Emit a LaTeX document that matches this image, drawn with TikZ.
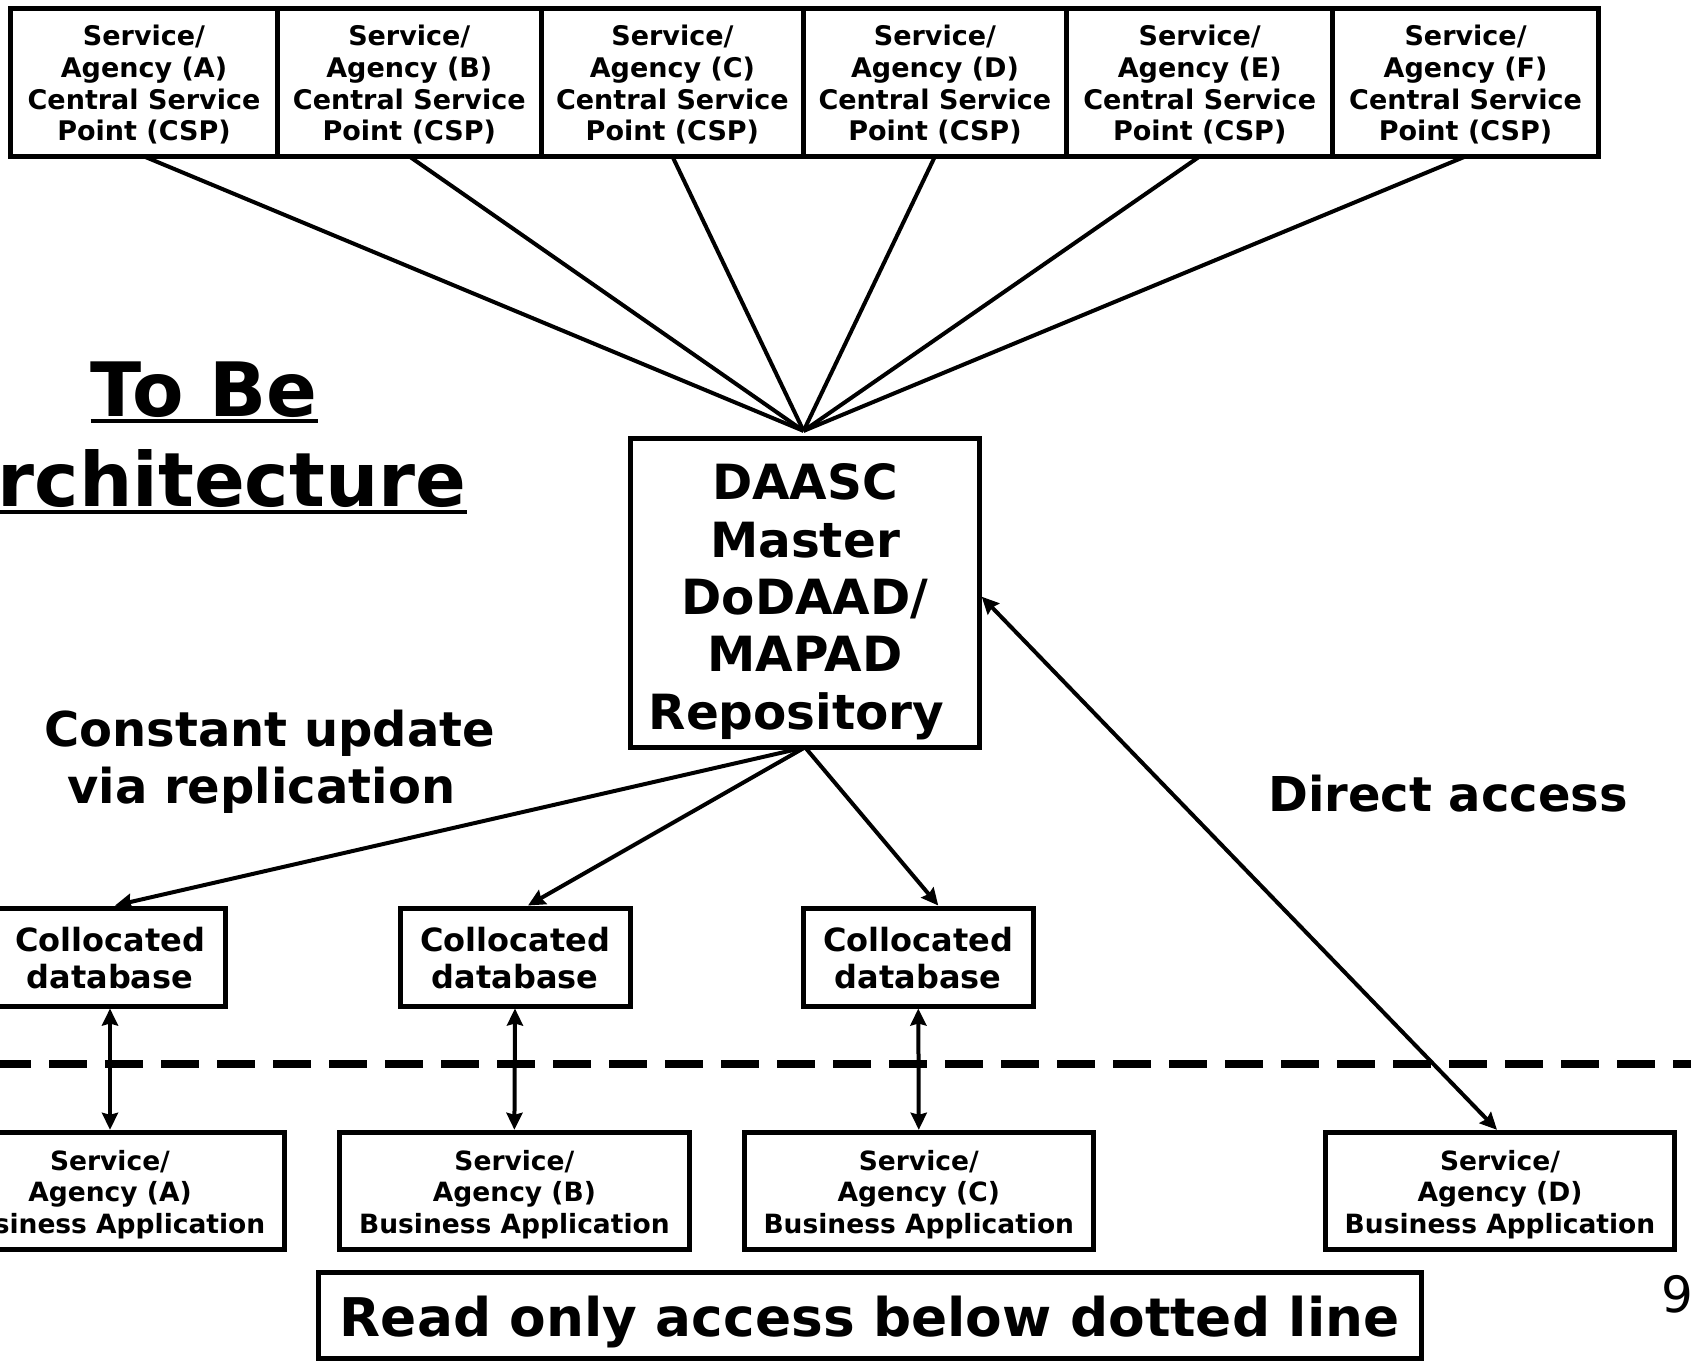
\documentclass[tikz,border=0pt]{standalone}
\usepackage{fontspec}
\setmainfont{DejaVu Sans}
\usetikzlibrary{arrows.meta,calc}
\newcommand\myUp[1]{\rule{0pt}{#1pt}}
\newcommand\myDn[1]{\rule[-#1pt]{0pt}{#1pt}}
\newcommand\csptext[1]{\myUp{29.7}Service/\\Agency (#1)\\Central Service\\Point (CSP)\myDn{8}}
\newcommand\biztext[1]{\myUp{29.6}Service/\\Agency (#1)\\Business Application\myDn{8}}
\newcommand\colltext{\myUp{35.7}Collocated\\database\myDn{10}}
\begin{document}
\begin{tikzpicture}[x=1pt,y=-1pt,
  box/.style={draw, line width=5pt, inner sep=0pt, outer sep=0pt, align=center},
  csp/.style={box, font=\fontsize{27}{31.7}\selectfont\bfseries, minimum height=147.8},
  coll/.style={box, font=\fontsize{32}{37.7}\selectfont\bfseries, minimum width=230, minimum height=98},
  biz/.style={box, font=\fontsize{26.5}{31.8}\selectfont\bfseries, minimum width=349.4, minimum height=117.6},
  big/.style={font=\fontsize{48}{57.4}\selectfont\bfseries, align=center, inner sep=0pt},
  conn/.style={line width=4pt},
  tip/.style={-{Stealth[length=17pt,width=16pt,inset=2pt]}},
  dtip/.style={{Stealth[length=17pt,width=16pt,inset=2pt]}-{Stealth[length=17pt,width=16pt,inset=2pt]}}
]
\useasboundingbox (0,0) rectangle (1691,1361);

% top row
\node[csp, minimum width=266.4] (cspA) at (144,82.5) {\csptext{A}};
\node[csp, minimum width=264.2] (cspB) at (409.3,82.5) {\csptext{B}};
\node[csp, minimum width=262] (cspC) at (672.4,82.5) {\csptext{C}};
\node[csp, minimum width=263] (cspD) at (934.95,82.5) {\csptext{D}};
\node[csp, minimum width=266.4] (cspE) at (1199.7,82.5) {\csptext{E}};
\node[csp, minimum width=265.3] (cspF) at (1465.55,82.5) {\csptext{F}};

% master
\node[box, font=\fontsize{48.5}{57.4}\selectfont\bfseries, minimum width=348.3, minimum height=308.4] (daasc) at (805.05,593.1)
  {\myUp{58.8}DAASC\\Master\\DoDAAD/\\MAPAD\\Repository\kern0.348em\myDn{16}};
\coordinate (conv) at ($(daasc.north)+(-1.5,-8)$);

% title
\node[inner sep=0pt, anchor=base, font=\fontsize{75}{92}\selectfont\bfseries] (title1) at (204.2,416) {To Be};
\node[inner sep=0pt, anchor=base east, font=\fontsize{75}{92}\selectfont\bfseries] (title2) at (466.7,506) {Architecture};
\draw[line width=4pt] ($(title1.base west)+(0,4.5)$) -- ($(title1.base east)+(0,4.5)$);
\draw[line width=4pt] ($(title2.base west)+(0,5.5)$) -- ($(title2.base east)+(0,5.5)$);

% labels
\node[big] (lblrep) at (269.6,762) {Constant update\\via replication\kern0.348em};
\node[big] (lbldir) at (1448,793.7) {Direct access};

% collocated
\node[coll] (coll1) at (110,957) {\colltext};
\node[coll] (coll2) at (515,957) {\colltext};
\node[coll] (coll3) at (918.3,957) {\colltext};

% business apps
\node[biz] (bizA) at (110,1191.1) {\biztext{A}};
\node[biz] (bizB) at (514.4,1191.1) {\biztext{B}};
\node[biz] (bizC) at (918.8,1191.1) {\biztext{C}};
\node[biz] (bizD) at (1500,1191.1) {\biztext{D}};

% read only
\node[box, font=\fontsize{53.3}{60}\selectfont\bfseries, minimum width=1103.3, minimum height=86.3] (ro) at (869.7,1315.7)
  {\myUp{55}Read only access below dotted line\myDn{14}};

% page number
\node[inner sep=0pt, anchor=west, font=\fontsize{50}{60}\selectfont] (pg) at (1661,1294) {9};

% dashed separator
\coordinate (dl) at (-7,1064);
\coordinate (dr) at (1691,1064);
\draw[line width=8pt, dash pattern=on 38pt off 18pt] (dl) -- (dr);

% connectors
\foreach \n in {A,B,C,D,E,F} \draw[conn] (csp\n.south) -- (conv);
\draw[conn, tip] (daasc.south) -- ($(coll1.north)+(5,-2.5)$);
\draw[conn, tip] (daasc.south) -- ($(coll2.north)+(13,-2.5)$);
\draw[conn, tip] (daasc.south) -- ($(coll3.north)+(20,-2.5)$);
\draw[conn, dtip] ($(coll1.south)+(0,2.5)$) -- ($(bizA.north)+(0,-2.5)$);
\draw[conn, dtip] ($(coll2.south)+(0,2.5)$) -- ($(bizB.north)+(0,-2.5)$);
\draw[conn, dtip] ($(coll3.south)+(0,2.5)$) -- ($(bizC.north)+(0,-2.5)$);
\draw[conn, dtip] ($(daasc.east)+(2.5,3.6)$) -- ($(bizD.north)+(-3,-2.5)$);
\end{tikzpicture}
\end{document}
